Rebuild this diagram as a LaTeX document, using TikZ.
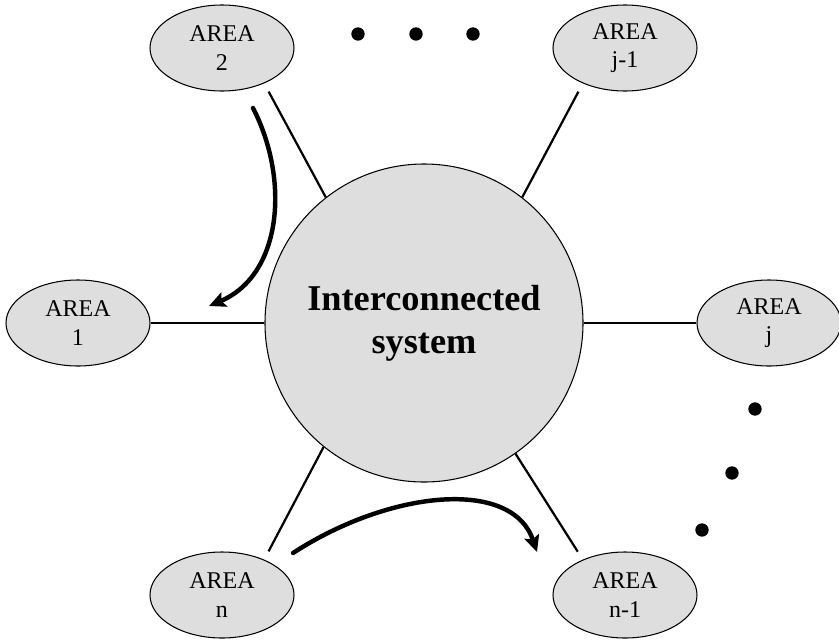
\documentclass[tikz,border=0pt]{standalone}
\usepackage{fontspec}
\setmainfont{Liberation Serif}
\usetikzlibrary{shapes.geometric,arrows.meta}
\begin{document}
\begin{tikzpicture}[x=0.03cm,y=-0.03cm,
  area/.style={ellipse,draw=black,line width=0.9pt,fill=black!13,
    minimum width=4.32cm,minimum height=2.58cm,inner sep=0pt,align=center,
    font=\fontsize{20.5}{24.5}\selectfont},
  hub/.style={circle,draw=black,line width=0.9pt,fill=black!13,
    minimum size=9.54cm,inner sep=0pt,align=center,
    font=\fontsize{31}{37}\selectfont\bfseries},
  link/.style={line width=1.9pt},
  flow/.style={line width=3.8pt,-{Stealth[length=14pt,width=13pt,inset=2.5pt]}},
  dot/.style={fill=black}]
\useasboundingbox (0,0) rectangle (839,640);
\node[hub] (C) at (424,323) {Interconnected\\system};
\node[area] (A2) at (222,48) {AREA\\2};
\node[area] (Aj1) at (625,48) {AREA\\j-1};
\node[area] (A1) at (78,323) {AREA\\1};
\node[area] (Aj) at (769,323) {AREA\\j};
\node[area] (An) at (222,595) {AREA\\n};
\node[area] (An1) at (625,595) {AREA\\n-1};
% links
\draw[link,shorten <=8pt] (A2.-40) -- (C.128);
\draw[link,shorten <=8pt] (Aj1.-140) -- (C.52);
\draw[link,shorten <=8pt] (An.40) -- (C.231);
\draw[link,shorten <=8pt] (An1.140) -- (C.305);
\draw[link] (A1.east) -- (C.west);
\draw[link] (C.east) -- (Aj.west);
% flow arrows
\coordinate (s1) at (253,108);
\coordinate (e1) at (209,306);
\coordinate (s2) at (293,553);
\coordinate (e2) at (537,552);
\draw[flow,line cap=round] (s1) .. controls (290,180) and (282,275) .. (e1);
\draw[flow,line cap=round] (s2) .. controls (390,490) and (512,478) .. (e2);
% dots
\fill[dot] (358,34) circle[radius=0.2cm];
\fill[dot] (416,34) circle[radius=0.2cm];
\fill[dot] (473,34) circle[radius=0.2cm];
\fill[dot] (755,409) circle[radius=0.2cm];
\fill[dot] (732,473) circle[radius=0.2cm];
\fill[dot] (702,530) circle[radius=0.2cm];
\end{tikzpicture}
\end{document}
